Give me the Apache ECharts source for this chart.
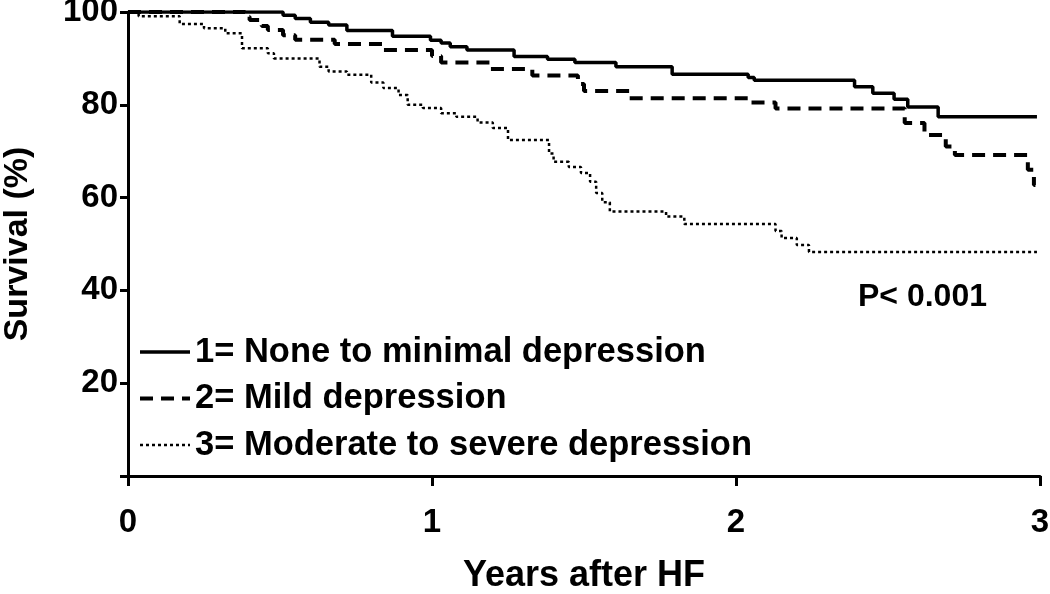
<!DOCTYPE html>
<html>
<head>
<meta charset="utf-8">
<script src="https://cdn.jsdelivr.net/npm/echarts@6/dist/echarts.min.js"></script>
<style>
html,body{margin:0;padding:0;background:#fff;}
#chart{width:1050px;height:594px;}
</style>
</head>
<body>
<div id="chart"></div>
<script>
// Series names
const seriesNames = [
  "1= None to minimal depression",
  "2= Mild depression",
  "3= Moderate to severe depression"
];
// Kaplan-Meier steps: [years, survival %]
const noneMinimal = [
  [0,100],[0.51,99.3],[0.55,98.6],[0.60,97.8],[0.66,97.2],[0.72,96.0],[0.87,94.8],
  [0.995,93.9],[1.03,93.3],[1.06,92.5],[1.115,91.8],[1.27,90.4],[1.38,89.8],[1.47,89.1],
  [1.605,88.2],[1.79,86.6],[2.04,85.9],[2.06,85.3],[2.39,83.9],[2.45,82.5],[2.52,81.2],
  [2.565,79.5],[2.665,77.4],[2.99,77.4]
];
const mild = [
  [0,100],[0.385,99.0],[0.40,98.3],[0.44,97.0],[0.46,96.1],[0.51,95.0],[0.55,94.0],
  [0.68,93.1],[0.84,91.8],[1.0,90.5],[1.03,89.1],[1.19,87.7],[1.33,86.3],[1.48,84.5],
  [1.50,83.0],[1.65,81.4],[2.05,80.5],[2.13,79.2],[2.555,76.1],[2.62,73.5],[2.69,71.0],
  [2.72,69.2],[2.96,66.0],[2.98,62.7],[2.985,62.7]
];
const moderateSevere = [
  [0,100],[0.035,99.1],[0.17,97.4],[0.25,96.5],[0.32,95.4],[0.375,92.2],[0.46,91.1],
  [0.48,90.0],[0.63,88.2],[0.66,87.2],[0.72,86.5],[0.80,84.8],[0.84,83.6],[0.89,82.1],
  [0.92,80.0],[0.97,79.3],[1.03,78.2],[1.08,77.4],[1.15,76.2],[1.20,75.0],[1.25,72.4],
  [1.385,69.5],[1.40,67.7],[1.45,66.6],[1.49,65.3],[1.52,63.4],[1.54,61.0],[1.56,59.0],
  [1.585,57.0],[1.77,55.9],[1.83,54.3],[2.13,52.8],[2.15,51.3],[2.20,49.8],[2.24,48.3],
  [2.99,48.3]
];
const xTicks = [0,1,2,3];
const yTicks = [0,20,40,60,80,100];
const pText = "P< 0.001";

const FONT = "Liberation Sans, Arial, sans-serif";
const chart = echarts.init(document.getElementById('chart'));
chart.setOption({
  backgroundColor: '#fff',
  animation: false,
  grid: {left:128, right:10, top:12, bottom:118, containLabel:false, outerBoundsMode:'none'},
  xAxis: {
    type:'value', min:xTicks[0], max:xTicks[xTicks.length-1], interval:1,
    name:'Years after HF', nameLocation:'middle', nameGap:82,
    nameTextStyle:{fontFamily:FONT, fontSize:36, fontWeight:'bold', color:'#000'},
    axisLine:{lineStyle:{color:'#000', width:3}},
    axisTick:{length:10, lineStyle:{color:'#000', width:3}},
    axisLabel:{fontFamily:FONT, fontSize:33, fontWeight:'bold', color:'#000', margin:30},
    splitLine:{show:false}
  },
  yAxis: {
    type:'value', min:yTicks[0], max:yTicks[yTicks.length-1], interval:20,
    name:'Survival (%)', nameLocation:'middle', nameGap:93,
    nameTextStyle:{fontFamily:FONT, fontSize:34, fontWeight:'bold', color:'#000'},
    axisLine:{show:true, lineStyle:{color:'#000', width:3}},
    axisTick:{show:true, length:8, lineStyle:{color:'#000', width:3}},
    axisLabel:{fontFamily:FONT, fontSize:33, fontWeight:'bold', color:'#000', margin:10,
      formatter: v => v === 0 ? '' : String(v)},
    splitLine:{show:false}
  },
  legend: {
    orient:'vertical', left:133, top:329,
    itemWidth:50, itemHeight:14, itemGap:10.5, itemTextGap:7,
    itemStyle:{opacity:0, color:'rgba(0,0,0,0)', borderWidth:0},
    lineStyle:{width:'inherit'},
    textStyle:{fontFamily:FONT, fontSize:34.5, fontWeight:'bold', color:'#000', lineHeight:36},
    data: seriesNames
  },
  graphic: [{
    type:'text', left:858, top:281,
    style:{text:pText, font:'bold 32px ' + FONT, fill:'#000'}
  }],
  series: [
    {name:seriesNames[0], type:'line', step:'end', symbol:'none', data:noneMinimal,
     lineStyle:{color:'#000', width:3.5, type:'solid'}, itemStyle:{color:'#000'}},
    {name:seriesNames[1], type:'line', step:'end', symbol:'none', data:mild,
     lineStyle:{color:'#000', width:4, type:[13,8]}, itemStyle:{color:'#000'}},
    {name:seriesNames[2], type:'line', step:'end', symbol:'none', data:moderateSevere,
     lineStyle:{color:'#000', width:2.5, type:[3,3]}, itemStyle:{color:'#000'}}
  ]
});
</script>
</body>
</html>
